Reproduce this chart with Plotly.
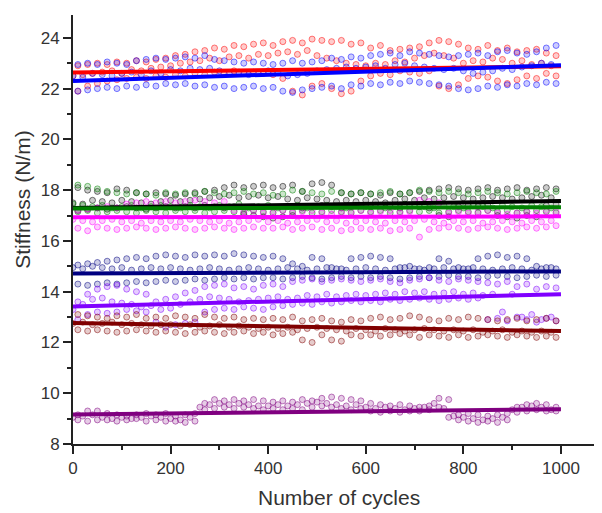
import plotly.graph_objects as go

# cycle grids (x data)
cycles_a = list(range(0, 1000, 20))   # 0..980
cycles_b = list(range(10, 1000, 20))  # 10..990

# ---------- RED ----------
red_hi = [22.9, 22.95, 23.0, 22.95, 23.05, 23.0, 23.1, 23.05, 23.15, 23.2,
          23.3, 23.35, 23.45, 23.5, 23.6, 23.55, 23.7, 23.65, 23.75, 23.8,
          23.7, 23.85, 23.9, 23.8, 23.95, 23.9, 23.85, 23.9, 23.75, 23.8,
          23.6, 23.7, 23.5, 23.55, 23.6, 23.65, 23.8, 23.9, 23.85, 23.75,
          23.6, 23.55, 23.7, 23.5, 23.6, 23.45, 23.5, 23.55, 23.4, 23.3]
red_mid = [22.5, 22.55, 22.6, 22.65, 22.7, 22.6, 22.75, 22.7, 22.8, 22.85,
           22.9, 23.0, 23.05, 23.1, 23.2, 23.1, 23.25, 23.3, 23.2, 23.35,
           23.3, 23.4, 23.45, 23.35, 23.5, 23.3, 23.2, 23.1, 23.0, 22.95,
           22.9, 23.0, 22.95, 23.1, 23.05, 23.2, 23.3, 23.4, 23.3, 23.2,
           23.0, 23.1, 23.05, 23.2, 23.15, 23.0, 23.1, 22.95, 23.0, 22.9]
red_lo = [21.9, 22.1, 22.2, 22.3, 22.35, 22.4, 22.45, 22.4, 22.5, 22.45,
          22.55, 22.5, 22.6, 22.55, 22.65, 22.6, 22.7, 22.6, 22.65, 22.6,
          22.55, 22.4, 21.9, 21.75, 22.1, 22.2, 22.0, 21.8, 21.9, 22.3,
          22.5, 22.6, 22.55, 22.7, 22.65, 22.6, 22.7, 22.1, 22.0, 22.15,
          22.4, 22.5, 22.45, 22.3, 22.2, 22.35, 22.5, 22.4, 22.6, 22.5]

# ---------- BLUE ----------
blue_hi = [22.95, 23.0, 22.95, 23.05, 23.0, 22.95, 23.1, 23.15, 23.2, 23.15,
           23.2, 23.25, 23.2, 23.3, 23.15, 23.1, 23.05, 23.0, 23.05, 23.0,
           22.95, 23.0, 23.1, 23.0, 23.05, 23.1, 23.2, 23.15, 23.25, 23.2,
           23.3, 23.35, 23.4, 23.3, 23.45, 23.4, 23.35, 23.3, 23.25, 23.3,
           23.35, 23.4, 23.3, 23.45, 23.5, 23.4, 23.35, 23.45, 23.6, 23.7]
blue_mid = [22.5, 22.45, 22.6, 22.55, 22.5, 22.6, 22.65, 22.55, 22.7, 22.6,
            22.75, 22.7, 22.8, 22.75, 22.8, 22.7, 22.6, 22.65, 22.55, 22.6,
            22.7, 22.65, 22.5, 22.55, 22.6, 22.7, 22.75, 22.8, 22.85, 22.8,
            22.85, 22.9, 22.8, 22.95, 23.0, 22.9, 22.85, 22.8, 22.75, 22.8,
            22.7, 22.6, 22.65, 22.7, 22.8, 22.75, 22.85, 22.9, 23.0, 22.95]
blue_lo = [21.9, 21.95, 22.0, 22.05, 22.0, 22.1, 22.05, 22.15, 22.1, 22.2,
           22.15, 22.2, 22.1, 22.15, 22.05, 22.1, 22.0, 22.05, 22.1, 22.0,
           22.05, 21.9, 21.85, 21.95, 22.0, 22.05, 22.1, 22.0, 22.15, 22.1,
           22.2, 22.15, 22.25, 22.2, 22.3, 22.25, 22.2, 22.15, 22.1, 22.0,
           21.95, 22.0, 22.1, 22.05, 22.15, 22.1, 22.2, 22.15, 22.25, 22.2]

# ---------- GREEN ----------
green_hi = [18.2, 18.15, 18.05, 17.95, 17.9, 17.85, 17.9, 17.85, 17.8, 17.9,
            17.85, 17.9, 17.85, 17.95, 17.9, 17.85, 17.9, 17.95, 17.85, 17.9,
            17.8, 17.85, 18.0, 17.95, 17.9, 17.85, 17.95, 17.9, 17.85, 17.9,
            17.85, 17.9, 17.95, 17.85, 17.9, 18.0, 17.95, 17.9, 17.95, 17.9,
            17.85, 17.9, 17.95, 17.9, 17.85, 17.9, 17.95, 17.9, 17.85, 17.95]
green_mid = [17.45, 17.4, 17.35, 17.4, 17.3, 17.35, 17.4, 17.3, 17.35, 17.4,
             17.35, 17.3, 17.4, 17.35, 17.3, 17.4, 17.35, 17.45, 17.3, 17.35,
             17.4, 17.3, 17.35, 17.4, 17.3, 17.35, 17.4, 17.35, 17.3, 17.4,
             17.35, 17.4, 17.3, 17.35, 17.45, 17.4, 17.35, 17.3, 17.4, 17.35,
             17.3, 17.4, 17.35, 17.3, 17.4, 17.35, 17.3, 17.4, 17.35, 17.3]
green_lo = [17.15, 17.2, 17.1, 17.15, 17.2, 17.15, 17.1, 17.2, 17.15, 17.1,
            17.2, 17.15, 17.2, 17.1, 17.15, 17.2, 17.15, 17.1, 17.2, 17.15,
            17.1, 17.2, 17.15, 17.2, 17.1, 17.15, 17.2, 17.15, 17.1, 17.2,
            17.15, 17.2, 17.1, 17.15, 17.2, 17.15, 17.2, 17.1, 17.15, 17.2,
            17.15, 17.1, 17.2, 17.15, 17.2, 17.1, 17.15, 17.2, 17.15, 17.1]

# ---------- BLACK ----------
black_hi = [18.1, 18.0, 17.95, 17.9, 18.05, 18.0, 17.9, 17.85, 17.9, 17.85,
            17.8, 17.85, 17.9, 17.95, 18.0, 18.1, 18.2, 18.1, 18.15, 18.2,
            18.1, 18.15, 18.2, 17.95, 18.25, 18.3, 18.2, 17.9, 17.85, 17.9,
            17.85, 17.8, 17.9, 17.85, 17.9, 17.95, 18.0, 18.05, 18.1, 18.05,
            18.0, 18.05, 18.1, 18.0, 18.05, 18.1, 18.0, 18.05, 18.1, 18.05]
black_mid = [17.5, 17.45, 17.6, 17.55, 17.5, 17.6, 17.55, 17.5, 17.45, 17.55,
             17.6, 17.55, 17.6, 17.65, 17.7, 17.75, 17.8, 17.7, 17.75, 17.8,
             17.7, 17.75, 17.65, 17.6, 17.7, 17.65, 17.6, 17.55, 17.6, 17.55,
             17.6, 17.55, 17.5, 17.6, 17.65, 17.6, 17.7, 17.65, 17.7, 17.75,
             17.7, 17.65, 17.7, 17.75, 17.7, 17.65, 17.7, 17.75, 17.8, 17.7]
black_lo = [17.2, 17.25, 17.3, 17.25, 17.3, 17.35, 17.3, 17.25, 17.3, 17.35,
            17.3, 17.35, 17.3, 17.4, 17.35, 17.3, 17.35, 17.05, 17.0, 16.95,
            16.9, 16.95, 17.0, 17.3, 17.35, 17.4, 17.35, 17.3, 17.35, 17.4,
            17.35, 17.4, 17.35, 17.3, 17.4, 17.35, 17.3, 17.0, 16.95, 17.35,
            17.4, 17.35, 17.4, 17.0, 16.95, 16.9, 17.0, 16.95, 17.4, 17.45]

# ---------- MAGENTA ----------
mag_hi = [17.2, 17.25, 17.3, 17.35, 17.3, 17.45, 17.5, 17.55, 17.5, 17.55,
          17.5, 17.55, 17.6, 17.55, 17.5, 17.55, 17.2, 17.15, 17.2, 17.1,
          17.15, 17.2, 17.1, 17.15, 17.2, 17.1, 17.05, 17.1, 17.15, 17.2,
          17.1, 17.15, 17.2, 17.1, 17.15, 17.6, 17.55, 17.5, 17.1, 17.15,
          17.1, 17.15, 17.2, 17.1, 17.05, 17.1, 17.15, 17.1, 17.2, 17.15]
mag_mid = [16.85, 16.8, 16.75, 16.8, 16.85, 16.75, 16.8, 16.7, 16.8, 16.75,
           16.8, 16.75, 16.85, 16.8, 16.75, 16.8, 16.7, 16.75, 16.8, 16.85,
           16.75, 16.8, 16.7, 16.75, 16.8, 16.85, 16.75, 16.8, 16.7, 16.75,
           16.8, 16.75, 16.7, 16.8, 16.75, 16.8, 16.85, 16.75, 16.7, 16.8,
           16.75, 16.8, 16.7, 16.75, 16.8, 16.75, 16.7, 16.8, 16.75, 16.8]
mag_lo = [16.5, 16.4, 16.55, 16.5, 16.45, 16.5, 16.55, 16.5, 16.45, 16.5,
          16.55, 16.5, 16.45, 16.5, 16.55, 16.5, 16.45, 16.5, 16.55, 16.5,
          16.5, 16.55, 16.45, 16.5, 16.55, 16.45, 16.5, 16.4, 16.45, 16.5,
          16.45, 16.5, 16.4, 16.45, 16.5, 16.15, 16.45, 16.5, 16.55, 16.5,
          16.45, 16.5, 16.55, 16.5, 16.45, 16.5, 16.55, 16.5, 16.55, 16.6]

# ---------- NAVY ----------
navy_hi = [15.05, 15.1, 15.15, 15.2, 15.25, 15.3, 15.35, 15.3, 15.4, 15.45,
           15.4, 15.35, 15.45, 15.4, 15.45, 15.4, 15.5, 15.45, 15.4, 15.35,
           15.4, 15.3, 15.1, 15.0, 15.35, 15.3, 14.95, 14.9, 15.3, 15.35,
           15.4, 15.35, 15.3, 14.95, 15.0, 14.9, 14.95, 15.3, 15.2, 14.95,
           14.9, 15.3, 15.4, 15.45, 15.35, 15.4, 15.3, 15.0, 14.95, 14.9]
navy_mid = [14.95, 14.9, 15.0, 14.95, 14.9, 14.95, 14.85, 14.9, 14.95, 14.9,
            14.95, 14.9, 14.85, 14.9, 14.95, 14.9, 14.85, 14.9, 14.95, 14.9,
            14.85, 14.9, 14.95, 14.9, 14.85, 14.9, 14.95, 14.9, 14.85, 14.9,
            14.95, 14.9, 14.85, 14.9, 14.95, 14.9, 14.85, 14.9, 14.95, 14.9,
            14.9, 14.95, 14.9, 14.85, 14.9, 14.95, 14.9, 14.85, 14.9, 14.95]
navy_lo = [14.3, 14.25, 14.3, 14.35, 14.3, 14.35, 14.4, 14.35, 14.4, 14.45,
           14.4, 14.45, 14.5, 14.45, 14.5, 14.55, 14.5, 14.55, 14.5, 14.55,
           14.55, 14.5, 14.55, 14.6, 14.55, 14.5, 14.55, 14.6, 14.55, 14.6,
           14.55, 14.6, 14.55, 14.5, 14.55, 14.6, 14.55, 14.6, 14.65, 14.6,
           14.6, 14.55, 14.6, 14.65, 14.6, 14.55, 14.6, 14.65, 14.6, 14.65]

# ---------- VIOLET ----------
violet_hi = [13.6, 13.9, 14.1, 14.2, 14.25, 14.1, 14.0, 13.9, 13.6, 13.7,
             13.8, 13.95, 14.05, 14.2, 14.25, 14.3, 14.15, 14.2, 14.1, 14.25,
             14.3, 14.2, 14.4, 14.45, 14.5, 14.4, 14.45, 14.5, 14.45, 14.4,
             14.45, 14.5, 14.4, 14.35, 14.45, 14.5, 14.55, 14.45, 14.4, 14.5,
             14.45, 14.4, 14.35, 14.3, 14.4, 14.2, 14.3, 14.1, 14.2, 14.15]
violet_mid = [13.3, 13.5, 13.7, 13.75, 13.6, 13.55, 13.5, 13.4, 13.45, 13.3,
              13.35, 13.5, 13.6, 13.7, 13.8, 13.75, 13.7, 13.6, 13.65, 13.7,
              13.75, 13.8, 13.7, 13.75, 13.85, 13.8, 13.9, 13.8, 13.85, 13.9,
              13.85, 13.9, 13.95, 13.9, 14.0, 13.95, 14.0, 13.9, 13.95, 14.0,
              13.9, 13.95, 13.85, 13.9, 13.2, 13.9, 13.0, 13.1, 12.9, 13.0]
violet_lo = [12.9, 13.1, 13.2, 13.15, 13.2, 13.3, 13.25, 13.2, 12.8, 12.6,
             12.7, 12.75, 12.8, 13.2, 13.3, 13.35, 13.3, 13.4, 13.35, 13.3,
             13.4, 13.45, 13.5, 13.55, 13.5, 13.6, 13.55, 13.6, 13.65, 13.6,
             13.65, 13.6, 13.7, 13.65, 13.7, 13.75, 13.7, 13.65, 13.7, 13.75,
             13.7, 13.75, 12.9, 12.95, 12.85, 13.0, 12.9, 12.8, 12.95, 12.85]

# ---------- BROWN ----------
brown_hi = [13.1, 13.05, 13.0, 12.95, 13.05, 13.0, 13.1, 12.95, 13.0, 12.95,
            13.05, 13.0, 12.95, 13.1, 13.0, 12.95, 13.0, 12.9, 12.95, 12.9,
            12.95, 12.9, 13.0, 12.85, 12.9, 12.95, 12.85, 12.8, 12.9, 12.85,
            12.95, 13.0, 12.9, 12.95, 13.05, 13.0, 12.9, 12.85, 12.95, 12.9,
            13.0, 12.95, 12.9, 12.85, 12.9, 12.95, 12.85, 12.9, 12.95, 12.85]
brown_mid = [12.75, 12.8, 12.7, 12.75, 12.8, 12.7, 12.75, 12.7, 12.65, 12.7,
             12.7, 12.65, 12.7, 12.6, 12.65, 12.7, 12.6, 12.65, 12.6, 12.55,
             12.6, 12.55, 12.6, 12.5, 12.55, 12.6, 12.55, 12.5, 12.45, 12.55,
             12.5, 12.45, 12.55, 12.5, 12.45, 12.5, 12.55, 12.5, 12.45, 12.5,
             12.45, 12.5, 12.4, 12.45, 12.5, 12.4, 12.45, 12.4, 12.45, 12.4]
brown_lo = [12.5, 12.45, 12.5, 12.45, 12.4, 12.45, 12.5, 12.45, 12.4, 12.45,
            12.4, 12.35, 12.4, 12.45, 12.4, 12.35, 12.4, 12.45, 12.35, 12.4,
            12.3, 12.35, 12.4, 12.1, 12.0, 12.3, 12.1, 12.05, 12.3, 12.25,
            12.3, 12.25, 12.3, 12.35, 12.3, 12.2, 12.3, 12.25, 12.2, 12.3,
            12.2, 12.25, 12.3, 12.25, 12.2, 12.3, 12.25, 12.2, 12.25, 12.2]

# ---------- DARK PURPLE ----------
dpur_hi = [9.15, 9.3, 9.3, 9.2, 9.15, 9.1, 9.15, 9.2, 9.15, 9.2,
           9.1, 9.15, 9.2, 9.6, 9.75, 9.7, 9.75, 9.7, 9.75, 9.7,
           9.65, 9.7, 9.65, 9.75, 9.7, 9.8, 9.85, 9.8, 9.75, 9.7,
           9.6, 9.55, 9.5, 9.55, 9.5, 9.45, 9.5, 9.8, 9.75, 9.15,
           9.2, 9.15, 9.1, 9.15, 9.2, 9.45, 9.55, 9.6, 9.55, 9.45]
dpur_mid = [9.05, 9.1, 9.15, 9.05, 9.0, 9.05, 9.0, 9.05, 9.1, 9.05,
            9.0, 8.95, 9.05, 9.45, 9.55, 9.6, 9.55, 9.6, 9.55, 9.5,
            9.5, 9.55, 9.5, 9.55, 9.6, 9.65, 9.6, 9.55, 9.5, 9.55,
            9.45, 9.4, 9.45, 9.4, 9.35, 9.4, 9.45, 9.6, 9.4, 9.1,
            9.05, 9.0, 8.95, 9.0, 9.05, 9.35, 9.45, 9.5, 9.45, 9.35]
dpur_lo = [8.95, 8.9, 8.95, 8.95, 8.9, 8.95, 9.0, 8.9, 8.95, 8.9,
           8.9, 8.85, 8.9, 9.35, 9.4, 9.45, 9.4, 9.45, 9.4, 9.35,
           9.4, 9.35, 9.4, 9.35, 9.45, 9.5, 9.45, 9.4, 9.35, 9.4,
           9.3, 9.25, 9.3, 9.25, 9.3, 9.3, 9.35, 9.45, 9.05, 8.95,
           8.9, 8.85, 8.9, 8.85, 8.95, 9.25, 9.3, 9.35, 9.3, 9.3]

# fitted-line endpoints (at cycle 0 and 1000)
fit_cycles = [0, 1000]
red_fit = [22.63, 22.88]
blue_fit = [22.30, 22.92]
green_fit = [17.28, 17.33]
black_fit = [17.30, 17.57]
mag_fit = [16.93, 16.97]
navy_fit = [14.72, 14.80]
violet_fit = [13.42, 13.90]
brown_fit = [12.77, 12.45]
dpur_fit = [9.16, 9.37]

series = [
    ("#ff0000", (255, 0, 0), [red_hi, red_mid, red_lo], red_fit),
    ("#0000ff", (0, 0, 255), [blue_hi, blue_mid, blue_lo], blue_fit),
    ("#000000", (0, 0, 0), [black_hi, black_mid, black_lo], black_fit),
    ("#008000", (0, 128, 0), [green_hi, green_mid, green_lo], green_fit),
    ("#ff00ff", (255, 0, 255), [mag_hi, mag_mid, mag_lo], mag_fit),
    ("#000080", (0, 0, 128), [navy_hi, navy_mid, navy_lo], navy_fit),
    ("#8000ff", (128, 0, 255), [violet_hi, violet_mid, violet_lo], violet_fit),
    ("#800000", (128, 0, 0), [brown_hi, brown_mid, brown_lo], brown_fit),
    ("#800080", (128, 0, 128), [dpur_hi, dpur_mid, dpur_lo], dpur_fit),
]

fig = go.Figure()
for col, rgb, bands, fit in series:
    r, g, b = rgb
    for i, band in enumerate(bands):
        xs = cycles_a if i == 1 else cycles_b
        fig.add_trace(go.Scatter(
            x=xs[:len(band)], y=band, mode="markers", showlegend=False,
            marker=dict(size=6, color=f"rgba({r},{g},{b},0.2)",
                        line=dict(color=f"rgba({r},{g},{b},0.5)", width=1)),
        ))
for col, rgb, bands, fit in series:
    fig.add_trace(go.Scatter(
        x=fit_cycles, y=fit, mode="lines", showlegend=False,
        line=dict(color=col, width=4),
    ))

FONT = "Liberation Sans, Arial"
axis_common = dict(
    showline=True, linecolor="#222", linewidth=1.8, ticks="outside",
    ticklen=8, tickwidth=1.5, tickcolor="#222", showgrid=False, zeroline=False,
    automargin=False,
    tickfont=dict(family=FONT, size=17, color="#333"),
)
fig.update_xaxes(
    range=[0, 1080], tick0=0, dtick=200,
    minor=dict(dtick=100, ticks="outside", ticklen=4, tickcolor="#222", tickwidth=1.5),
    **axis_common,
)
fig.update_yaxes(
    range=[8, 24.9], tick0=8, dtick=2,
    minor=dict(dtick=1, ticks="outside", ticklen=4, tickcolor="#222", tickwidth=1.5),
    **axis_common,
)
# the page body adds an 8px offset, so the figure is drawn 8px smaller
fig.update_layout(
    width=594, height=505,
    margin=dict(l=65, r=2, t=7, b=69),
    plot_bgcolor="white", paper_bgcolor="white",
    annotations=[
        dict(text="Number of cycles", xref="paper", yref="paper",
             x=0.505, y=-0.124, xanchor="center", yanchor="middle", showarrow=False,
             font=dict(family=FONT, size=21, color="#333")),
        dict(text="Stiffness (N/m)", xref="paper", yref="paper", textangle=-90,
             x=-0.095, y=0.569, xanchor="center", yanchor="middle", showarrow=False,
             font=dict(family=FONT, size=21, color="#333")),
    ],
)
fig.write_html("out.html")
